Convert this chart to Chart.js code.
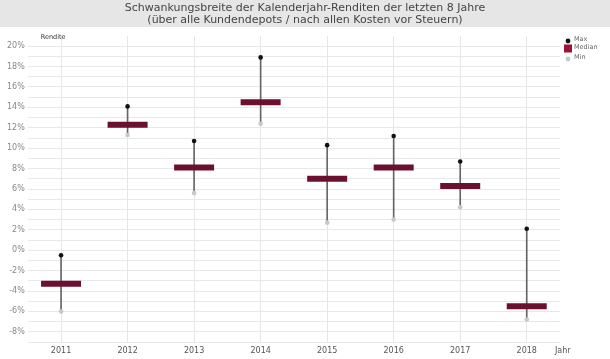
<!DOCTYPE html>
<html lang="de">
<head>
    <meta charset="UTF-8">
    <title>Schwankungsbreite der Kalenderjahr-Renditen</title>
    <style>
        body { margin: 0; background: #fff; overflow: hidden; }
        canvas { display: block; }
    </style>
</head>
<body>
    <!-- a bit taller than the window: the empty strip below the year labels is cut off -->
    <canvas id="rangeChart" width="610" height="368"></canvas>
    <script src="https://cdn.jsdelivr.net/npm/chart.js@4"></script>
    <script>
        // Werte in Prozent
        const years = ['2011', '2012', '2013', '2014', '2015', '2016', '2017', '2018'];
        const maxValues = [-0.5, 14.1, 10.7, 18.9, 10.3, 11.2, 8.7, 2.1];
        const medianValues = [-3.3, 12.3, 8.1, 14.5, 7.0, 8.1, 6.3, -5.5];
        const minValues = [-6.0, 11.3, 5.6, 12.4, 2.7, 3.0, 4.2, -6.8];

        const titleLines = [
            'Schwankungsbreite der Kalenderjahr-Renditen der letzten 8 Jahre',
            '(über alle Kundendepots / nach allen Kosten vor Steuern)'
        ];

        const font = 'DejaVu Sans';
        const medianColor = '#6c1030';

        // grey title band, title, axis captions and the small legend
        const decorations = {
            id: 'decorations',
            beforeDraw(chart) {
                const ctx = chart.ctx;
                ctx.save();
                ctx.fillStyle = '#fff';
                ctx.fillRect(0, 0, chart.width, chart.height);
                ctx.fillStyle = '#e6e6e6';
                ctx.fillRect(0, 0, chart.width, 27);
                ctx.fillStyle = '#444';
                ctx.font = '11px "' + font + '"';
                ctx.textAlign = 'center';
                ctx.textBaseline = 'middle';
                ctx.fillText(titleLines[0], chart.width / 2, 8);
                ctx.fillText(titleLines[1], chart.width / 2, 20);
                ctx.restore();
            },
            afterDraw(chart) {
                const ctx = chart.ctx;
                const area = chart.chartArea;
                const y = chart.scales.y;
                ctx.save();
                ctx.textBaseline = 'middle';
                ctx.fillStyle = '#333';
                ctx.font = '6.5px "' + font + '"';
                ctx.fillText('Rendite', area.left + 13, y.getPixelForValue(20.85));
                ctx.fillStyle = '#555';
                ctx.font = '8px "' + font + '"';
                ctx.fillText('Jahr', area.right - 5, area.bottom + 9);

                // legend
                const lx = area.right + 8;
                const tx = area.right + 14;
                const rows = [
                    { label: chart.data.datasets[0].label, y: 40 },
                    { label: chart.data.datasets[1].label, y: 48 },
                    { label: chart.data.datasets[2].label, y: 58 }
                ];
                ctx.fillStyle = '#111';
                ctx.beginPath(); ctx.arc(lx, rows[0].y + 1, 2.4, 0, Math.PI * 2); ctx.fill();
                ctx.fillStyle = '#9b1438';
                ctx.fillRect(lx - 4, rows[1].y - 3.5, 8, 8);
                ctx.fillStyle = '#c8c8c8';
                ctx.beginPath(); ctx.arc(lx, rows[2].y + 1, 2.4, 0, Math.PI * 2); ctx.fill();
                ctx.fillStyle = '#666';
                ctx.font = '6.5px "' + font + '"';
                rows.forEach(r => ctx.fillText(r.label, tx, r.y - 1));
                ctx.restore();
            }
        };

        new Chart(document.getElementById('rangeChart'), {
            type: 'bar',
            data: {
                labels: years,
                datasets: [
                    {
                        type: 'line',
                        label: 'Max',
                        data: maxValues,
                        showLine: false,
                        pointRadius: 2.3,
                        pointBackgroundColor: '#111',
                        pointBorderWidth: 0,
                        order: 0
                    },
                    {
                        type: 'line',
                        label: 'Median',
                        data: medianValues,
                        showLine: false,
                        pointStyle: 'line',
                        pointRadius: 20,
                        pointBorderWidth: 6,
                        pointBorderColor: medianColor,
                        order: 1
                    },
                    {
                        type: 'line',
                        label: 'Min',
                        data: minValues,
                        showLine: false,
                        pointRadius: 2.3,
                        pointBackgroundColor: '#c8c8c8',
                        pointBorderWidth: 0,
                        order: 0
                    },
                    {
                        label: 'Spanne',
                        data: years.map((y, i) => [minValues[i], maxValues[i]]),
                        backgroundColor: '#666',
                        barThickness: 1,
                        order: 2
                    }
                ]
            },
            options: {
                responsive: false,
                animation: false,
                events: [],
                layout: { padding: { left: 4, right: 50, top: 36, bottom: 2 } },
                plugins: {
                    title: { display: false },
                    legend: { display: false },
                    tooltip: { enabled: false }
                },
                scales: {
                    x: {
                        offset: true,
                        grid: { color: '#e6e6e6', offset: false, drawTicks: false },
                        border: { display: false },
                        ticks: {
                            color: '#555',
                            padding: 4,
                            font: { family: font, size: 8 }
                        }
                    },
                    y: {
                        min: -9,
                        max: 21,
                        grid: {
                            drawTicks: false,
                            color: ctx => (ctx.tick && ctx.tick.value > 20 ? 'rgba(0,0,0,0)' : '#e8e8e8')
                        },
                        border: { display: false },
                        ticks: {
                            stepSize: 1,
                            autoSkip: false,
                            padding: 3,
                            color: '#888',
                            font: { family: font, size: 8 },
                            callback: v => (v % 2 === 0 && v <= 20 ? v + '%' : '')
                        }
                    }
                }
            },
            plugins: [decorations]
        });
    </script>
</body>
</html>
